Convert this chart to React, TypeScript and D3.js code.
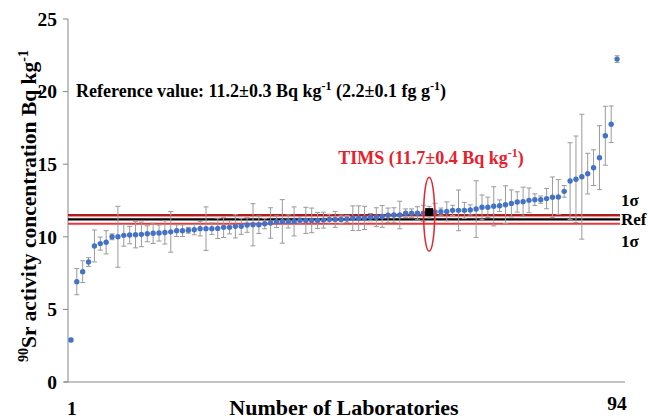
import React from "react";
import * as d3 from "d3";

const values: number[] = [
  2.89, 6.91, 7.6, 8.26, 9.37, 9.53, 9.62, 10.0, 10.0, 10.1,
  10.12, 10.14, 10.17, 10.21, 10.24, 10.26, 10.3, 10.34, 10.42, 10.42,
  10.45, 10.49, 10.56, 10.56, 10.56, 10.58, 10.65, 10.65, 10.72, 10.72,
  10.81, 10.83, 10.83, 10.9, 10.95, 11.04, 11.06, 11.06, 11.06, 11.13,
  11.13, 11.13, 11.13, 11.15, 11.2, 11.2, 11.2, 11.22, 11.28, 11.28,
  11.3, 11.35, 11.35, 11.4, 11.48, 11.5, 11.5, 11.62, 11.62, 11.62,
  11.62, 11.7, 11.71, 11.73, 11.75, 11.82, 11.82, 11.82, 11.85, 11.91,
  12.03, 12.03, 12.1, 12.14, 12.21, 12.3, 12.4, 12.42, 12.51, 12.56,
  12.56, 12.63, 12.72, 12.74, 13.13, 13.84, 13.96, 14.14, 14.35, 14.76,
  15.45, 16.96, 17.75, 22.24,
];
const errors: number[] = [
  0.12, 0.9, 0.75, 0.3, 1.1, 0.45, 0.8, 0.2, 2.1, 0.75,
  0.6, 0.9, 0.85, 0.55, 0.7, 0.55, 0.8, 1.4, 0.4, 0.4,
  0.2, 0.35, 0.5, 1.5, 0.4, 0.7, 0.7, 0.45, 0.8, 0.55,
  0.5, 1.45, 0.6, 0.35, 1.05, 0.4, 1.5, 0.45, 1.0, 0.25,
  0.9, 0.85, 0.55, 0.55, 0.35, 0.55, 0.3, 0.25, 0.85, 0.85,
  0.8, 0.25, 0.65, 0.75, 0.5, 0.5, 0.95, 0.3, 0.3, 0.45,
  0.55, 0.4, 0.6, 0.25, 0.65, 0.35, 1.4, 0.55, 0.35, 1.95,
  0.85, 0.7, 1.35, 0.4, 1.3, 0.93, 0.7, 1.0, 0.85, 0.4,
  0.25, 0.7, 1.4, 1.2, 0.4, 2.64, 2.98, 4.3, 1.4, 1.23,
  2.2, 2.03, 1.26, 0.23,
];
const timsIndex = 62;
const timsValue = 11.7;
const refValue = 11.2;
const refSigma = 0.3;
const yTicks: number[] = [0, 5, 10, 15, 20, 25];
const xTickLabels: number[] = [1, 94];

const W = 648;
const H = 420;
const FONT = "'Liberation Serif', 'Times New Roman', serif";

export default function App() {
  const x = d3.scaleLinear().domain([0.5, 94.5]).range([68, 620]);
  const y = d3.scaleLinear().domain([0, 25]).range([382, 19]);
  const cap = 2.5;

  return (
    <svg
      width={W}
      height={H}
      viewBox={`0 0 ${W} ${H}`}
      style={{ position: "absolute", left: 0, top: 0, background: "#fff" }}
      fontFamily={FONT}
    >
      <rect x={0} y={0} width={W} height={H} fill="#fff" />
      {/* axes */}
      <line x1={68} x2={68} y1={y(25)} y2={y(0)} stroke="#868686" strokeWidth={1} />
      <line x1={64} x2={625} y1={y(0)} y2={y(0)} stroke="#868686" strokeWidth={1} />
      {yTicks.map((t) => (
        <g key={t}>
          <line x1={63} x2={68} y1={y(t)} y2={y(t)} stroke="#868686" strokeWidth={1} />
          <text
            x={57}
            y={y(t)}
            dy="0.35em"
            textAnchor="end"
            fontSize={19.5}
            fontWeight="bold"
            fill="#000"
          >
            {t}
          </text>
        </g>
      ))}
      {xTickLabels.map((t, i) => (
        <text
          key={t}
          x={x(t) + (i === 0 ? 1 : 0)}
          y={i === 0 ? 415 : 410}
          textAnchor="middle"
          fontSize={19.5}
          fontWeight="bold"
          fill="#000"
        >
          {t}
        </text>
      ))}
      <text x={344} y={415} textAnchor="middle" fontSize={22} fontWeight="bold" fill="#000">
        Number of Laboratories
      </text>
      <text
        transform={`translate(36, 206) rotate(-90)`}
        textAnchor="middle"
        fontSize={21.5}
        fontWeight="bold"
        fill="#000"
      >
        <tspan fontSize={14} dy={-8}>90</tspan>
        <tspan dy={8}>Sr activity concentration Bq kg</tspan>
        <tspan fontSize={14} dy={-8}>-1</tspan>
      </text>

      {/* reference lines */}
      <line x1={68} x2={620} y1={y(refValue + refSigma)} y2={y(refValue + refSigma)} stroke="#b01c1c" strokeWidth={2.2} />
      <line x1={68} x2={620} y1={y(refValue + refSigma) + 1.6} y2={y(refValue + refSigma) + 1.6} stroke="#f08080" strokeWidth={1} />
      <line x1={68} x2={620} y1={y(refValue)} y2={y(refValue)} stroke="#000" strokeWidth={2.4} />
      <line x1={68} x2={620} y1={y(refValue - refSigma)} y2={y(refValue - refSigma)} stroke="#e8383d" strokeWidth={2.2} />

      {/* error bars */}
      {values.map((v, i) => {
        const xi = x(i + 1);
        const e = errors[i];
        return (
          <g key={"e" + i} stroke="#9a9a9a" strokeWidth={1}>
            <line x1={xi} x2={xi} y1={y(v + e)} y2={y(v - e)} />
            <line x1={xi - cap} x2={xi + cap} y1={y(v + e)} y2={y(v + e)} />
            <line x1={xi - cap} x2={xi + cap} y1={y(v - e)} y2={y(v - e)} />
          </g>
        );
      })}
      {/* points */}
      {values.map((v, i) =>
        i + 1 === timsIndex ? null : (
          <circle key={"p" + i} cx={x(i + 1)} cy={y(v)} r={2.7} fill="#4472c4" />
        )
      )}
      <rect
        x={x(timsIndex) - 4}
        y={y(timsValue) - 4}
        width={8}
        height={8}
        fill="#000"
      />
      <ellipse
        cx={x(timsIndex)}
        cy={y(11.55)}
        rx={5.5}
        ry={37}
        fill="none"
        stroke="#e0282e"
        strokeWidth={1.5}
      />

      {/* annotations */}
      <text x={431} y={164} textAnchor="middle" fontSize={18} fontWeight="bold" fill="#e8202a">
        TIMS (11.7±0.4 Bq kg<tspan fontSize={12} dy={-7}>-1</tspan>
        <tspan dy={7}>)</tspan>
      </text>
      <text x={76} y={97} fontSize={18} fontWeight="bold" fill="#000">
        Reference value: 11.2±0.3 Bq kg<tspan fontSize={12} dy={-7}>-1</tspan>
        <tspan dy={7}> (2.2±0.1 fg g</tspan>
        <tspan fontSize={12} dy={-7}>-1</tspan>
        <tspan dy={7}>)</tspan>
      </text>
      <text x={621} y={206} fontSize={17} fontWeight="bold" fill="#000">1σ</text>
      <text x={621} y={225} fontSize={17} fontWeight="bold" fill="#000">Ref</text>
      <text x={621} y={247} fontSize={17} fontWeight="bold" fill="#000">1σ</text>
    </svg>
  );
}
